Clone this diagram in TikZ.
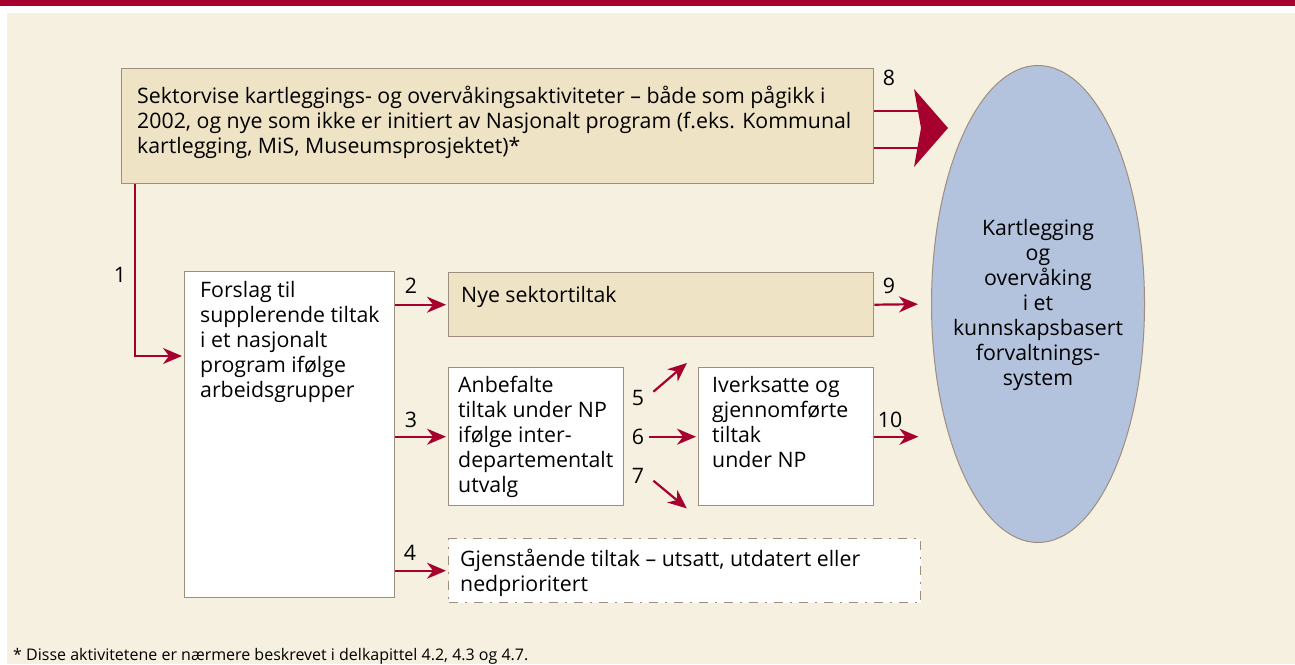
\documentclass[tikz,border=0pt]{standalone}
\usepackage{fontspec}
\setmainfont{Open Sans}
\usetikzlibrary{arrows.meta,shapes.geometric,calc}

\definecolor{npred}{HTML}{A6002F}
\definecolor{npcream}{HTML}{F6F0E1}
\definecolor{npbeige}{HTML}{EFE3C6}
\definecolor{npedge}{HTML}{9E8E7E}
\definecolor{npblue}{HTML}{B3C3DD}
\newcommand{\npfont}{\fontsize{21.3}{25}\selectfont}
\newcommand{\fnfont}{\fontsize{16}{18}\selectfont}

\begin{document}
\begin{tikzpicture}[x=1pt, y=-1pt,
    box/.style = {draw=npedge, line width=1.4pt, anchor=north west, inner sep=0pt},
    txt/.style = {anchor=north west, align=left, inner sep=0pt, font=\npfont},
    num/.style = {inner sep=0pt, font=\npfont},
    arr/.style = {npred, line width=2.2pt, shorten >=2pt, -{Stealth[length=19pt,width=16pt,inset=6pt]}}]
        \useasboundingbox (0,0) rectangle (1295,664);
        \fill [white] (0,0) rectangle (1295,664);
        \fill [npred] (0,0) rectangle (1295,6);
        \fill [npcream] (7,13) rectangle (1295,664);

        \node [box, fill=npbeige, minimum width=752pt, minimum height=115pt] (sekt) at (121,68) {};
        \node [txt] (sekttxt) at (137,86) {Sektorvise kartleggings- og overvåkingsaktiviteter – både som pågikk i\\2002, og nye som ikke er initiert av Nasjonalt program (f.eks. Kommunal\\kartlegging, MiS, Museumsprosjektet)*};
        \node [box, fill=white, minimum width=210pt, minimum height=326pt] (forslag) at (184,271) {};
        \node [txt] (forslagtxt) at (200,281) {Forslag til\\supplerende tiltak\\i et nasjonalt\\program ifølge\\arbeidsgrupper};
        \node [box, fill=npbeige, minimum width=425pt, minimum height=64pt] (nye) at (448,272) {};
        \node [txt] (nyetxt) at (461,286) {Nye sektortiltak};
        \node [box, fill=white, minimum width=175pt, minimum height=138pt] (anb) at (448,367) {};
        \node [txt] (anbtxt) at (458,376) {Anbefalte\\tiltak under NP\\ifølge inter-\\departementalt\\utvalg};
        \node [box, fill=white, minimum width=175pt, minimum height=138pt] (iverk) at (698,367) {};
        \node [txt] (iverktxt) at (712,376) {Iverksatte og\\gjennomførte\\tiltak\\under NP};
        \node [box, fill=white, dash pattern=on 9pt off 7pt on 2pt off 7pt, minimum width=472pt, minimum height=64pt] (gjen) at (448,538) {};
        \node [txt] (gjentxt) at (460,549) {Gjenstående tiltak – utsatt, utdatert eller\\nedprioritert};
        \node [ellipse, draw=npedge, line width=1pt, fill=npblue, minimum width=213pt, minimum height=477pt,
          inner sep=0pt] (mal) at (1038,304) {};
        \node [align=center, inner sep=0pt, font=\npfont] (maltxt) at ([yshift=-1pt]mal.center)
          {Kartlegging\\og\\overvåking\\i et\\kunnskapsbasert\\forvaltnings-\\system};

        \draw [arr] ([xshift=14pt]sekt.south west) |- ($(forslag.north west)+(0,85)$);
        \draw [arr] (forslag.east |- nye.west) -- (nye.west);
        \draw [arr] (forslag.east |- anb.west) -- (anb.west);
        \draw [arr] (forslag.east |- gjen.west) -- (gjen.west);
        \draw [arr] ($(anb.east)+(29,-45)$) -- ($(anb.east)+(64,-75)$);
        \draw [arr] ($(anb.east)+(25,0)$) -- (iverk.west);
        \draw [arr] ($(anb.east)+(29,44)$) -- ($(anb.east)+(64,73)$);
        \draw [arr, shorten >=13pt] (nye.east) -- (mal.west);
        \draw [arr] (iverk.east) -- ++(46,0);
        \draw [npred, line width=2pt] ([yshift=15.5pt]sekt.east) -- ++(45,0) ([yshift=-21.5pt]sekt.east) -- ++(45,0);
        \fill [npred] (914,89) -- (948,128) -- (914,167) -- (921,128) -- cycle;

        \node [num] (n1) at (120,275) {1};
        \node [num] (n2) at (411,286) {2};
        \node [num] (n3) at (411,420) {3};
        \node [num] (n4) at (410,553) {4};
        \node [num] (n5) at (638,398) {5};
        \node [num] (n6) at (638,437) {6};
        \node [num] (n7) at (638,476) {7};
        \node [num] (n8) at (889,78) {8};
        \node [num] (n9) at (889,286) {9};
        \node [num] (n10) at (890,420) {10};

        \node [anchor=base west, inner sep=0pt, font=\fnfont] (note) at (13,660) {* Disse aktivitetene er nærmere beskrevet i delkapittel 4.2, 4.3 og 4.7.};
      \end{tikzpicture}
\end{document}
